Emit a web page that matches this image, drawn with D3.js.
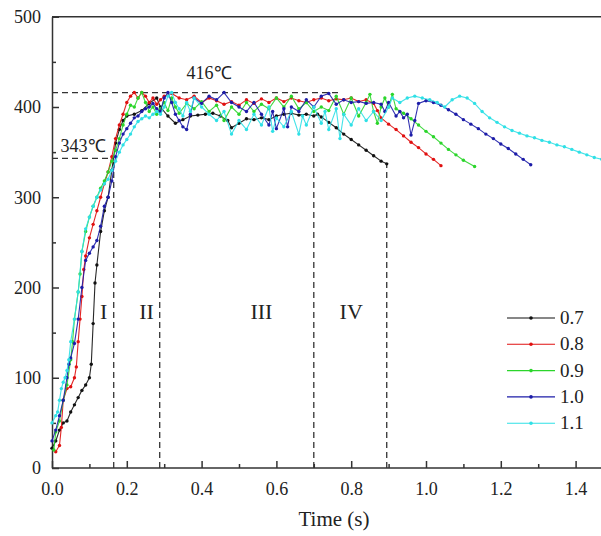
<!DOCTYPE html>
<html><head><meta charset="utf-8">
<script src="https://cdn.jsdelivr.net/npm/d3@7"></script>
<style>body{margin:0;background:#fff}svg{display:block}text{font-family:"Liberation Serif","Times New Roman",serif;fill:#222}</style>
</head><body><svg id="c" width="601" height="536"></svg>
<script>
const seriesNames = ["0.7","0.8","0.9","1.0","1.1"];
const seriesColors = ["#111111","#e01010","#2bd52b","#1c1ca8","#2fe0e6"];
const s07 = [[0.00,22],[0.01,30],[0.02,42],[0.03,50],[0.04,52],[0.05,62],[0.06,70],[0.07,78],[0.08,86],[0.09,92],[0.10,100],[0.105,115],[0.11,160],[0.115,205],[0.12,225],[0.13,262],[0.14,285],[0.15,300],[0.16,330],[0.17,360],[0.18,375],[0.19,385],[0.20,390],[0.22,392],[0.24,396],[0.26,404],[0.28,410],[0.29,400],[0.31,390],[0.33,382],[0.35,386],[0.37,390],[0.39,391],[0.41,392],[0.43,393],[0.45,390],[0.47,385],[0.48,377],[0.50,382],[0.52,387],[0.54,386],[0.56,388],[0.58,386],[0.60,390],[0.62,392],[0.64,393],[0.66,391],[0.68,392],[0.70,390],[0.71,392],[0.72,389],[0.74,383],[0.76,377],[0.78,370],[0.80,364],[0.82,358],[0.84,352],[0.86,346],[0.88,340],[0.895,337]];
const s08 = [[0.01,18],[0.02,25],[0.025,45],[0.03,75],[0.04,88],[0.05,90],[0.06,100],[0.065,112],[0.07,140],[0.075,165],[0.08,190],[0.085,220],[0.09,235],[0.10,255],[0.11,270],[0.12,285],[0.13,300],[0.14,315],[0.15,328],[0.16,345],[0.17,365],[0.18,380],[0.19,392],[0.20,405],[0.21,412],[0.22,416],[0.23,410],[0.24,416],[0.25,412],[0.26,405],[0.27,410],[0.28,403],[0.29,408],[0.30,412],[0.32,415],[0.34,410],[0.36,408],[0.38,412],[0.40,405],[0.42,410],[0.44,407],[0.46,403],[0.48,406],[0.50,402],[0.52,408],[0.54,404],[0.56,409],[0.58,405],[0.60,410],[0.62,406],[0.64,410],[0.66,407],[0.68,405],[0.70,408],[0.72,410],[0.74,407],[0.76,409],[0.78,408],[0.80,410],[0.82,406],[0.84,408],[0.86,404],[0.87,396],[0.88,388],[0.90,381],[0.92,375],[0.94,368],[0.96,361],[0.98,355],[1.00,348],[1.02,342],[1.04,335]];
const s09 = [[0.005,20],[0.01,40],[0.02,52],[0.03,75],[0.04,92],[0.05,120],[0.055,140],[0.06,165],[0.07,195],[0.075,215],[0.08,240],[0.09,262],[0.10,278],[0.11,290],[0.12,300],[0.13,310],[0.14,318],[0.15,328],[0.16,340],[0.17,352],[0.18,365],[0.19,380],[0.20,392],[0.21,402],[0.22,400],[0.23,410],[0.24,416],[0.25,405],[0.26,395],[0.27,400],[0.28,392],[0.29,398],[0.30,405],[0.31,396],[0.32,410],[0.33,400],[0.34,393],[0.36,404],[0.38,398],[0.40,406],[0.42,395],[0.44,402],[0.46,385],[0.48,400],[0.50,392],[0.52,405],[0.54,395],[0.56,403],[0.58,398],[0.60,410],[0.62,400],[0.64,412],[0.66,398],[0.68,405],[0.70,395],[0.72,400],[0.74,396],[0.76,412],[0.78,392],[0.80,410],[0.82,390],[0.84,405],[0.85,414],[0.86,395],[0.87,382],[0.88,400],[0.89,410],[0.90,400],[0.91,414],[0.92,398],[0.94,393],[0.96,387],[0.98,380],[1.00,373],[1.02,367],[1.04,360],[1.06,353],[1.08,347],[1.10,341],[1.13,334]];
const s10 = [[0.00,30],[0.01,42],[0.02,58],[0.03,75],[0.04,100],[0.045,115],[0.05,122],[0.06,138],[0.07,165],[0.08,200],[0.09,230],[0.10,238],[0.11,245],[0.12,252],[0.13,268],[0.14,290],[0.15,300],[0.16,318],[0.17,345],[0.18,360],[0.19,370],[0.20,376],[0.21,382],[0.22,388],[0.23,390],[0.24,395],[0.25,398],[0.26,400],[0.27,404],[0.28,398],[0.29,395],[0.30,410],[0.31,416],[0.32,405],[0.33,392],[0.34,385],[0.35,378],[0.36,375],[0.37,392],[0.38,410],[0.40,404],[0.42,412],[0.44,408],[0.46,416],[0.48,405],[0.50,400],[0.52,395],[0.54,405],[0.56,392],[0.58,380],[0.59,395],[0.60,376],[0.62,398],[0.63,378],[0.64,400],[0.66,395],[0.68,408],[0.70,400],[0.72,412],[0.74,415],[0.76,403],[0.78,408],[0.80,405],[0.82,406],[0.84,404],[0.86,405],[0.88,403],[0.89,395],[0.90,405],[0.92,390],[0.93,395],[0.94,388],[0.95,392],[0.96,369],[0.97,385],[0.98,404],[1.00,407],[1.02,405],[1.04,402],[1.06,397],[1.08,392],[1.10,386],[1.12,381],[1.14,376],[1.16,370],[1.18,365],[1.20,359],[1.22,354],[1.24,348],[1.26,342],[1.28,336]];
const s11 = [[0.00,50],[0.01,58],[0.015,62],[0.02,75],[0.025,88],[0.03,95],[0.035,100],[0.04,108],[0.045,120],[0.05,140],[0.06,165],[0.07,195],[0.08,240],[0.09,265],[0.10,278],[0.11,290],[0.12,300],[0.13,308],[0.14,315],[0.15,320],[0.16,330],[0.17,340],[0.18,350],[0.19,358],[0.20,364],[0.21,370],[0.22,378],[0.23,384],[0.24,387],[0.25,390],[0.26,388],[0.27,392],[0.28,395],[0.29,392],[0.30,400],[0.31,412],[0.32,416],[0.33,405],[0.34,398],[0.35,390],[0.36,405],[0.37,395],[0.38,410],[0.40,400],[0.42,392],[0.44,385],[0.46,395],[0.48,370],[0.50,385],[0.52,375],[0.54,392],[0.56,380],[0.58,400],[0.59,373],[0.60,388],[0.62,378],[0.64,395],[0.66,370],[0.67,390],[0.68,380],[0.70,400],[0.72,382],[0.73,395],[0.74,375],[0.76,398],[0.77,365],[0.78,392],[0.80,380],[0.82,398],[0.84,385],[0.86,395],[0.88,385],[0.90,400],[0.91,410],[0.93,405],[0.95,410],[0.97,412],[0.99,410],[1.01,408],[1.03,405],[1.05,400],[1.07,408],[1.09,412],[1.11,410],[1.13,404],[1.15,395],[1.17,388],[1.19,383],[1.21,378],[1.23,374],[1.25,371],[1.27,368],[1.29,366],[1.31,363],[1.33,361],[1.35,358],[1.37,356],[1.39,353],[1.41,350],[1.43,347],[1.45,344],[1.47,342]];
const allSeries = [s07,s08,s09,s10,s11];
const xTicks = [0,0.2,0.4,0.6,0.8,1.0,1.2,1.4];
const xMinor = [0.1,0.3,0.5,0.7,0.9,1.1,1.3,1.5];
const yTicks = [0,100,200,300,400,500];
const yMinor = [50,150,250,350,450];
// reference lines: [t1,T1,t2,T2]
const refLines = [[0,416,0.775,416],[0,343,0.165,343],[0.165,0,0.165,343],[0.288,0,0.288,387],[0.70,0,0.70,387],[0.895,0,0.895,337]];
const refLabels = [{t:0.42,T:431,text:"416℃"},{t:0.083,T:350,text:"343℃"}];
const stageLabels = [{t:0.138,text:"I"},{t:0.253,text:"II"},{t:0.56,text:"III"},{t:0.80,text:"IV"}];
const stageT = 165;

const serif = '"Liberation Serif","Times New Roman",serif';
const svg = d3.select("#c");
const x = d3.scaleLinear().domain([0,1.5]).range([52,52+374*1.5]);
const y = d3.scaleLinear().domain([0,500]).range([468,16.75]);
const W = 601;
const ax = "#333";

// frame
svg.append("line").attr("x1",x(0)).attr("x2",W).attr("y1",y(500)).attr("y2",y(500)).attr("stroke",ax).attr("stroke-width",1.5);

// ref dashed lines
svg.append("g").selectAll("line").data(refLines).join("line")
  .attr("x1",d=>x(d[0])).attr("y1",d=>y(d[1])).attr("x2",d=>x(d[2])).attr("y2",d=>y(d[3]))
  .attr("stroke","#333").attr("stroke-width",1.3).attr("stroke-dasharray","6,4");

// axes
const xa = svg.append("g").attr("transform",`translate(0,${y(0)})`)
  .call(d3.axisBottom(x).tickValues(xTicks).tickFormat(d3.format(".1f")).tickSizeInner(-7).tickSizeOuter(0).tickPadding(14));
const xm = svg.append("g").attr("transform",`translate(0,${y(0)})`)
  .call(d3.axisBottom(x).tickValues(xMinor).tickFormat("").tickSizeInner(-4).tickSizeOuter(0));
xm.select(".domain").remove();
xa.select(".domain").attr("d",`M${x(0)},0H${W}`);
const ya = svg.append("g").attr("transform",`translate(${x(0)},0)`)
  .call(d3.axisLeft(y).tickValues(yTicks).tickSizeInner(-7).tickSizeOuter(0).tickPadding(11));
const ym = svg.append("g").attr("transform",`translate(${x(0)},0)`)
  .call(d3.axisLeft(y).tickValues(yMinor).tickFormat("").tickSizeInner(-4).tickSizeOuter(0));
ym.select(".domain").remove();
[xa,xm,ya,ym].forEach(g=>{g.attr("font-family",serif).attr("font-size",18);g.selectAll("line").attr("stroke",ax).attr("stroke-width",1.5);g.selectAll(".domain").attr("stroke",ax).attr("stroke-width",1.5);});
[xa,ya].forEach(g=>g.selectAll("text").style("font-family",serif).style("font-size","18px").attr("fill","#222"));

// series
const line = d3.line().x(d=>x(d[0])).y(d=>y(d[1]));
allSeries.forEach((s,i)=>{
  const g = svg.append("g");
  g.append("path").datum(s).attr("d",line).attr("fill","none").attr("stroke",seriesColors[i]).attr("stroke-width",1.1).attr("opacity",0.9);
  g.selectAll("circle").data(s).join("circle").attr("cx",d=>x(d[0])).attr("cy",d=>y(d[1])).attr("r",1.7).attr("fill",seriesColors[i]);
});

// labels
svg.append("g").selectAll("text").data(refLabels).join("text")
  .attr("x",d=>x(d.t)).attr("y",d=>y(d.T)).attr("text-anchor","middle").style("font-family",serif).style("font-size","18px").text(d=>d.text);
svg.append("g").selectAll("text").data(stageLabels).join("text")
  .attr("x",d=>x(d.t)).attr("y",y(stageT)).attr("text-anchor","middle").style("font-family",serif).style("font-size","22px").text(d=>d.text);

// axis title
svg.append("text").attr("x",334).attr("y",526).attr("text-anchor","middle").style("font-family",serif).style("font-size","21px").text("Time (s)");

// legend
const lg = svg.append("g").selectAll("g").data(seriesNames).join("g")
  .attr("transform",(d,i)=>`translate(507,${318+i*26.3})`);
lg.append("line").attr("x1",0).attr("x2",48).attr("y1",0).attr("y2",0).attr("stroke",(d,i)=>seriesColors[i]).attr("stroke-width",1.1);
lg.append("circle").attr("cx",24).attr("cy",0).attr("r",1.8).attr("fill",(d,i)=>seriesColors[i]);
lg.append("text").attr("x",53).attr("y",6).style("font-family",serif).style("font-size","19px").text(d=>d);
</script></body></html>
